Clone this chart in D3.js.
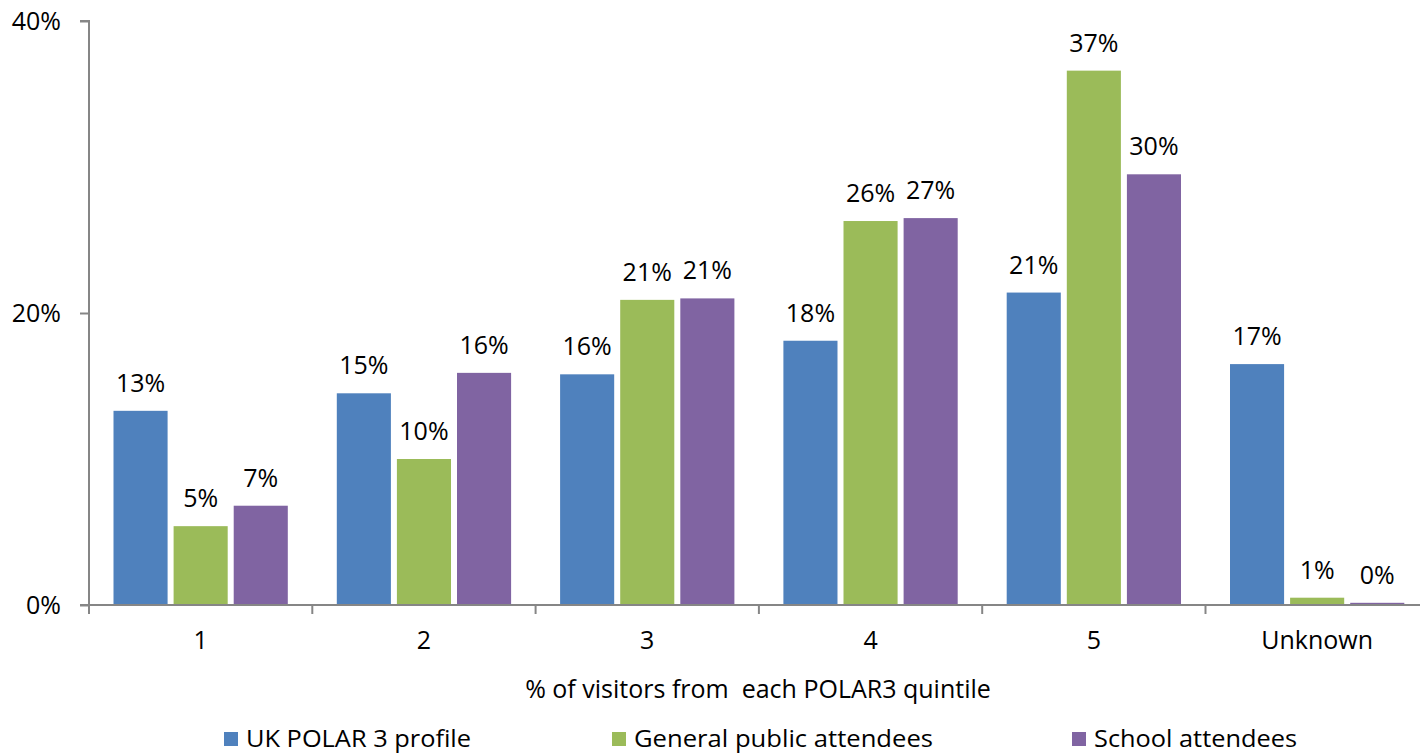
<!DOCTYPE html>
<html>
<head>
<meta charset="utf-8">
<script src="https://cdn.jsdelivr.net/npm/d3@7"></script>
<style>
  body { margin: 0; background: #fff; }
  text { font-family: "Open Sans", "Noto Sans", sans-serif; fill: #000; }
</style>
</head>
<body>
<div id="chart"></div>
<script>
// categories and series
const categories = ["1", "2", "3", "4", "5", "Unknown"];
const seriesNames = ["UK POLAR 3 profile", "General public attendees", "School attendees"];
const seriesColors = ["#4F81BD", "#9BBB59", "#8064A2"];
const ukProfile = [13.3, 14.5, 15.8, 18.1, 21.4, 16.5];
const generalPublic = [5.4, 10.0, 20.9, 26.3, 36.6, 0.5];
const schoolAttendees = [6.8, 15.9, 21.0, 26.5, 29.5, 0.15];
const yTicks = [0, 20, 40];

const seriesValues = [ukProfile, generalPublic, schoolAttendees];

const width = 1420, height = 754;
const margin = { top: 21, left: 89, bottom: 149 };
const plotH = height - margin.top - margin.bottom; // 0% at y=605
const fontSize = "25px";

const svg = d3.select("#chart")
    .append("svg")
    .attr("width", width)
    .attr("height", height);

// scales
const x0 = d3.scaleBand()
    .domain(categories)
    .range([margin.left, margin.left + 223.3 * categories.length])
    .paddingInner(0)
    .paddingOuter(0);

const x1 = d3.scaleBand()
    .domain(d3.range(seriesNames.length))
    .range([24.5, x0.bandwidth() - 24.5])
    .paddingInner(0.1);

const y = d3.scaleLinear()
    .domain([0, 40])
    .range([margin.top + plotH, margin.top]);

// bars
categories.forEach((cat, i) => {
    const g = svg.append("g").attr("transform", `translate(${x0(cat)},0)`);
    seriesValues.forEach((vals, s) => {
        const v = vals[i];
        g.append("rect")
            .attr("x", x1(s))
            .attr("y", y(v))
            .attr("width", x1.bandwidth())
            .attr("height", y(0) - y(v))
            .attr("fill", seriesColors[s]);
        g.append("text")
            .attr("x", x1(s) + x1.bandwidth() / 2)
            .attr("y", y(v) - 19)
            .attr("text-anchor", "middle")
            .style("font-size", fontSize)
            .text(Math.round(v) + "%");
    });
});

// y axis
const yAxis = svg.append("g")
    .attr("transform", `translate(${margin.left},0)`)
    .call(d3.axisLeft(y).tickValues(yTicks).tickFormat(d => d + "%").tickSize(9).tickPadding(19));
yAxis.select(".domain").attr("d", `M-9,${y(40)}H0V${y(0)}`);

// x axis
const xAxis = svg.append("g")
    .attr("transform", `translate(0,${y(0)})`)
    .call(d3.axisBottom(x0).tickSize(0).tickPadding(26));
xAxis.select(".domain").attr("d", `M${margin.left - 9},0H${width + 20}`);
xAxis.selectAll(".tick line").remove();
xAxis.selectAll(".sep")
    .data(d3.range(categories.length + 1))
    .enter()
    .append("line")
    .attr("class", "sep")
    .attr("x1", d => margin.left + d * x0.bandwidth())
    .attr("x2", d => margin.left + d * x0.bandwidth())
    .attr("y1", 0)
    .attr("y2", 9);

svg.selectAll(".domain, .tick line, .sep")
    .attr("stroke", "#868686")
    .attr("stroke-width", 2);

svg.selectAll(".tick text")
    .attr("font-size", null)
    .style("font-size", fontSize)
    .style("font-family", "'Open Sans', 'Noto Sans', sans-serif")
    .attr("fill", "#000");
svg.selectAll(".tick").each(function() { d3.select(this.parentNode).attr("font-size", null); });

// axis title
svg.append("text")
    .attr("x", 758)
    .attr("y", 698)
    .attr("text-anchor", "middle")
    .style("font-size", fontSize)
    .style("white-space", "pre")
    .text("% of visitors from  each POLAR3 quintile");

// legend
const legendX = [224, 612, 1072];
seriesNames.forEach((name, s) => {
    svg.append("rect")
        .attr("x", legendX[s])
        .attr("y", 732)
        .attr("width", 14)
        .attr("height", 14)
        .attr("fill", seriesColors[s]);
    svg.append("text")
        .attr("x", legendX[s] + 22)
        .attr("y", 747)
        .style("font-size", "23px")
        .attr("textLength", [225, 299, 203][s])
        .attr("lengthAdjust", "spacingAndGlyphs")
        .text(name);
});
</script>
</body>
</html>
